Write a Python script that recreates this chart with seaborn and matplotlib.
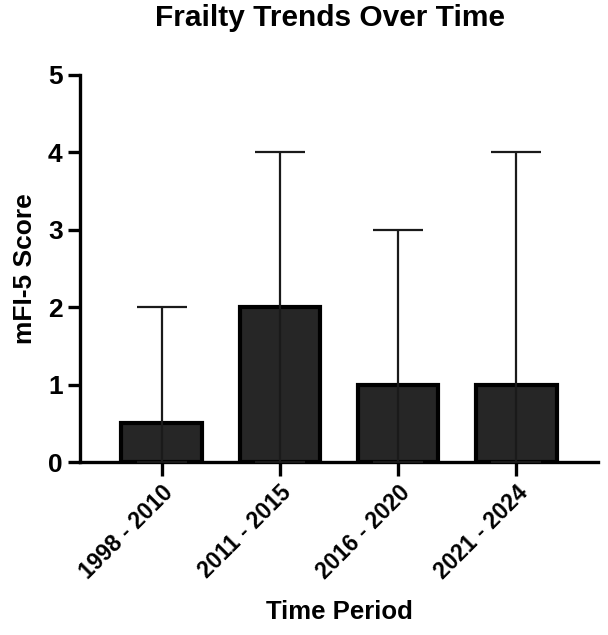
import matplotlib
matplotlib.use('Agg')
import matplotlib.pyplot as plt
import seaborn as sns
import pandas as pd

# Median mFI-5 score per period with range (min - max)
periods = ['1998 - 2010', '2011 - 2015', '2016 - 2020', '2021 - 2024']
medians = [0.5, 2, 1, 1]
mins = [0, 0, 0, 0]
maxs = [2, 4, 3, 4]

df = pd.DataFrame({'period': periods, 'score': medians})

sns.set_style('white')
plt.rcParams['font.family'] = ['Liberation Sans', 'DejaVu Sans']
plt.rcParams['font.weight'] = 'bold'
for k in ['text.color', 'axes.labelcolor', 'xtick.color', 'ytick.color']:
    plt.rcParams[k] = 'black'

fig = plt.figure(figsize=(6.08, 6.35), dpi=100)
ax = fig.add_axes([0.1316, 0.2724, 0.852, 0.6096])

sns.barplot(data=df, x='period', y='score', ax=ax, color='#262626',
            edgecolor='black', linewidth=3, width=0.68, errorbar=None,
            saturation=1)

# Range error bars (min to max)
lower = [m - lo for m, lo in zip(medians, mins)]
upper = [hi - m for m, hi in zip(medians, maxs)]
ax.errorbar(range(len(periods)), medians, yerr=[lower, upper], fmt='none',
            ecolor='#1a1a1a', elinewidth=1.6, capsize=18, capthick=1.6, zorder=5)

ax.set_ylim(0, 5)
ax.set_xlim(-0.69, 3.69)
ax.set_yticks([0, 1, 2, 3, 4, 5])

ax.set_title('Frailty Trends Over Time', fontsize=21.5, fontweight='bold',
             pad=35, x=0.483)
ax.set_xlabel('Time Period', fontsize=18.5, fontweight='bold', labelpad=12)
ax.set_ylabel('mFI-5 Score', fontsize=19, fontweight='bold', labelpad=8)

ax.tick_params(axis='both', which='major', length=10, width=2.4, color='black',
               labelsize=16.5, bottom=True, left=True, direction='out')
ax.tick_params(axis='y', labelsize=19, length=9)
plt.setp(ax.get_xticklabels(), rotation=45, ha='right', rotation_mode='anchor',
         fontweight='bold')
plt.setp(ax.get_yticklabels(), fontweight='bold')

# Remove top and right borders
ax.spines['top'].set_visible(False)
ax.spines['right'].set_visible(False)
for s in ['left', 'bottom']:
    ax.spines[s].set_linewidth(2.4)
    ax.spines[s].set_color('black')

fig.savefig('out.png', dpi=100)
